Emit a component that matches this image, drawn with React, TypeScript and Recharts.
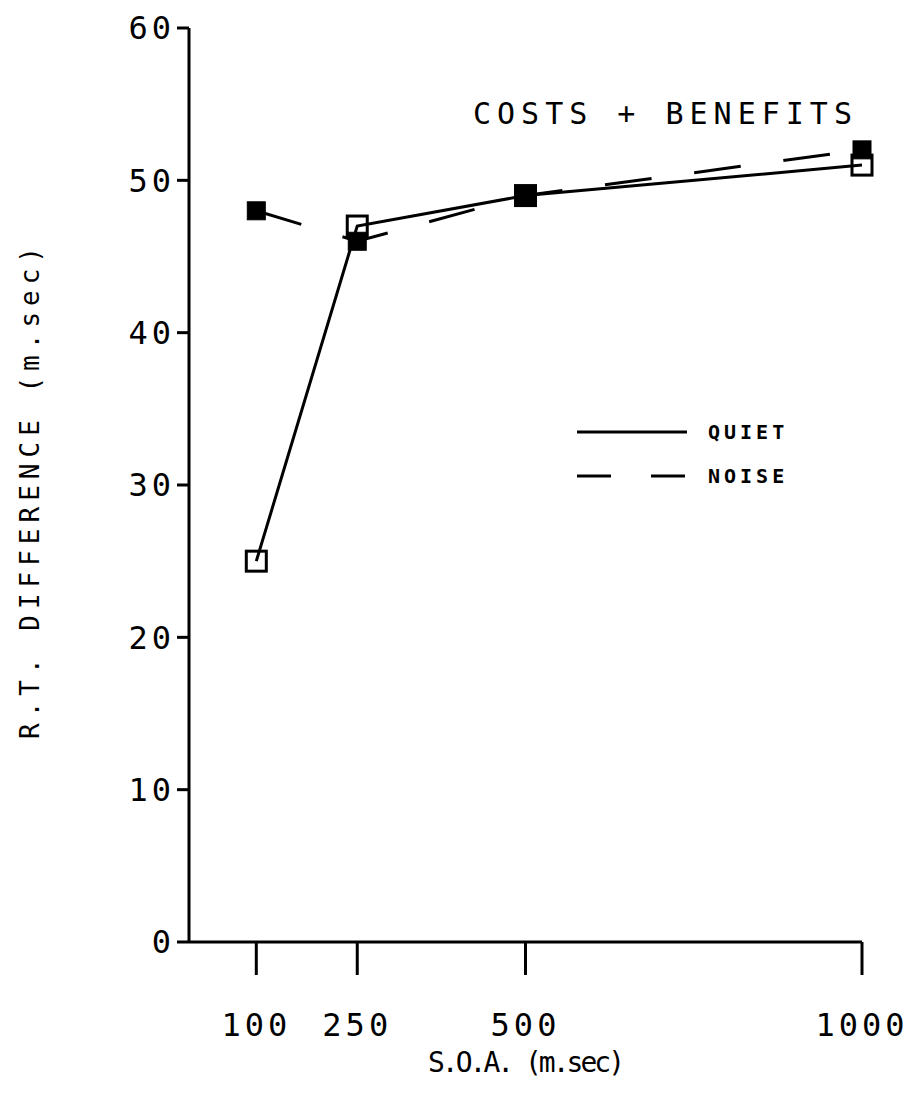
import { Line, LineChart, XAxis, YAxis } from 'recharts';

const SOA_MS = [100, 250, 500, 1000];
const QUIET_RT = [25, 47, 49, 51];
const NOISE_RT = [48, 46, 49, 52];
const Y_TICKS = [0, 10, 20, 30, 40, 50, 60];

const data = SOA_MS.map((soa, i) => ({ soa, quiet: QUIET_RT[i], noise: NOISE_RT[i] }));

const FONT = '"DejaVu Sans Mono", monospace';
const INK = '#000';

function OpenSquare({ cx, cy }: any) {
  if (cx == null || cy == null) return null;
  return <rect x={cx - 10} y={cy - 10} width={20} height={20} fill="none" stroke={INK} strokeWidth={3} />;
}

function FilledSquare({ cx, cy }: any) {
  if (cx == null || cy == null) return null;
  return <rect x={cx - 9} y={cy - 9} width={18} height={18} fill={INK} stroke={INK} strokeWidth={1} />;
}

// legend drawn as an overlay so it doesn't eat into the plot offset
function LegendBox() {
  const row = { display: 'flex', alignItems: 'center', height: 44 };
  const text = { fontFamily: FONT, fontWeight: 700, fontSize: 20, marginLeft: 21, letterSpacing: 4 };
  return (
    <div style={{ position: 'absolute', left: 577, top: 410 }}>
      <div style={row}>
        <svg width={110} height={6}><line x1={0} y1={3} x2={110} y2={3} stroke={INK} strokeWidth={3} /></svg>
        <span style={text}>QUIET</span>
      </div>
      <div style={row}>
        <svg width={110} height={6}><line x1={0} y1={3} x2={110} y2={3} stroke={INK} strokeWidth={3} strokeDasharray="34 40" /></svg>
        <span style={text}>NOISE</span>
      </div>
    </div>
  );
}

export default function App() {
  return (
    <div style={{ position: 'absolute', left: 0, top: 0, width: 913, height: 1105, background: '#fff' }}>
      <LineChart width={913} height={1105} data={data} margin={{ top: 28, right: 51, bottom: 103, left: 129 }}>
        <XAxis
          dataKey="soa"
          type="number"
          domain={[0, 1000]}
          ticks={SOA_MS}
          height={60}
          tickSize={33}
          tickMargin={38}
          axisLine={{ stroke: INK, strokeWidth: 3 }}
          tickLine={{ stroke: INK, strokeWidth: 3 }}
          tick={{ fill: INK, fontFamily: FONT, fontSize: 32, letterSpacing: 4 }}
        />
        <YAxis
          type="number"
          domain={[0, 60]}
          ticks={Y_TICKS}
          width={60}
          tickSize={12}
          tickMargin={2}
          axisLine={{ stroke: INK, strokeWidth: 3 }}
          tickLine={{ stroke: INK, strokeWidth: 3 }}
          tick={{ fill: INK, fontFamily: FONT, fontSize: 32, letterSpacing: 4 }}
        />
        <Line
          dataKey="noise"
          stroke={INK}
          strokeWidth={3}
          strokeDasharray="47 43"
          dot={<FilledSquare />}
          activeDot={false}
          isAnimationActive={false}
        />
        <Line
          dataKey="quiet"
          stroke={INK}
          strokeWidth={3}
          dot={<OpenSquare />}
          activeDot={false}
          isAnimationActive={false}
        />
      </LineChart>
      <LegendBox />
      <div style={{ position: 'absolute', left: 473, top: 96, fontFamily: FONT, fontSize: 30, letterSpacing: 6, whiteSpace: 'nowrap' }}>
        COSTS + BENEFITS
      </div>
      <div style={{ position: 'absolute', left: 525, top: 1062, transform: 'translate(-50%, -50%)', fontFamily: FONT, fontSize: 28, letterSpacing: -3, whiteSpace: 'nowrap' }}>
        S.O.A. (m.sec)
      </div>
      <div style={{ position: 'absolute', left: 30, top: 490, transform: 'translate(-50%, -50%) rotate(-90deg)', fontFamily: FONT, fontSize: 26, letterSpacing: 6, whiteSpace: 'nowrap' }}>
        R.T. DIFFERENCE (m.sec)
      </div>
    </div>
  );
}
